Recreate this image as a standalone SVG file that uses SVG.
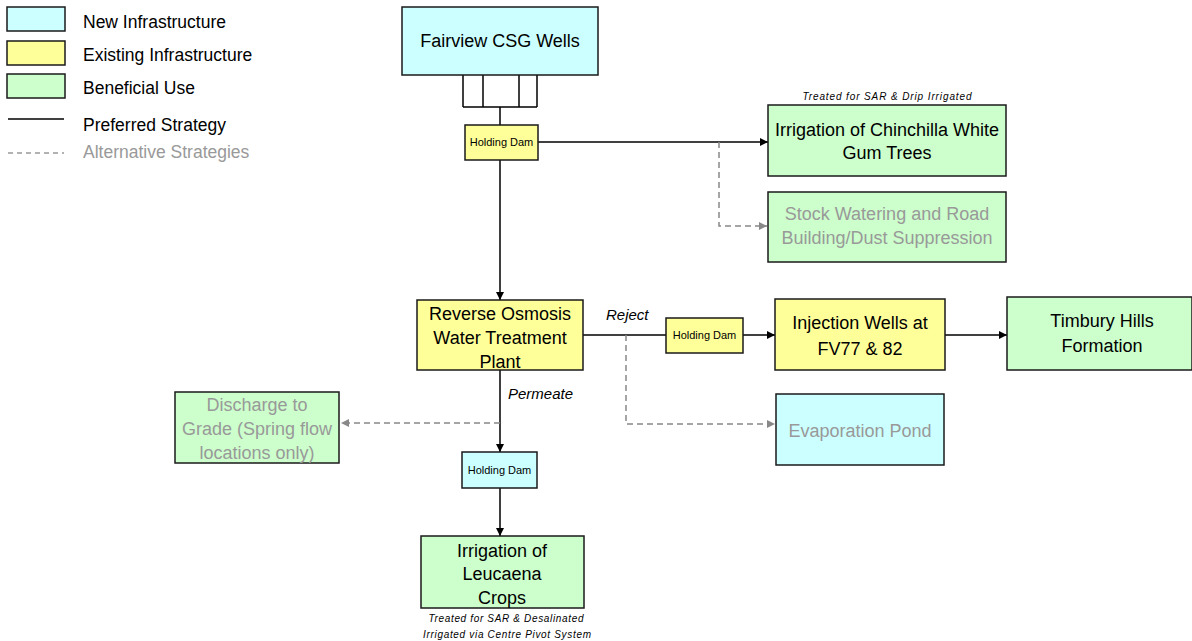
<svg xmlns="http://www.w3.org/2000/svg" width="1192" height="641" viewBox="0 0 1192 641">
  <defs>
    <marker id="arrow" viewBox="0 0 10 10" refX="10" refY="5" markerWidth="8" markerHeight="8" markerUnits="userSpaceOnUse" orient="auto">
      <path d="M0,0 L10,5 L0,10 z" fill="#000"/>
    </marker>
    <marker id="arrowGrey" viewBox="0 0 10 10" refX="10" refY="5" markerWidth="8" markerHeight="8" markerUnits="userSpaceOnUse" orient="auto">
      <path d="M0,0 L10,5 L0,10 z" fill="#888"/>
    </marker>
    <style>
      text { font-family: "Liberation Sans", Arial, sans-serif; }
      .box { stroke: #1a1a1a; stroke-width: 1.5; }
      .new { fill: #CCFFFF; }
      .existing { fill: #FFFF99; }
      .benefit { fill: #CCFFCC; }
      .lbl { font-size: 18px; fill: #000; text-anchor: middle; }
      .lbl-alt { font-size: 18px; fill: #999; text-anchor: middle; }
      .dam { font-size: 11px; fill: #000; text-anchor: middle; }
      .note { font-size: 10px; font-style: italic; fill: #000; text-anchor: middle; }
      .flow { font-size: 15px; font-style: italic; fill: #000; }
      .legend { font-size: 17.5px; fill: #000; }
      .legend-alt { font-size: 17.5px; fill: #999; }
      .pref { stroke: #000; stroke-width: 1.5; fill: none; }
      .alt { stroke: #888; stroke-width: 1.5; fill: none; stroke-dasharray: 6 4; }
    </style>
  </defs>

  <!-- Legend -->
  <g id="legend">
    <rect class="box new" x="7" y="7" width="58" height="24"/>
    <rect class="box existing" x="7" y="41" width="58" height="24"/>
    <rect class="box benefit" x="7" y="74" width="58" height="24"/>
    <line x1="8" y1="119" x2="64" y2="119" stroke="#000" stroke-width="1.5"/>
    <line x1="8" y1="153" x2="64" y2="153" stroke="#999" stroke-width="1.5" stroke-dasharray="5 4"/>
    <text class="legend" x="83" y="28">New Infrastructure</text>
    <text class="legend" x="83" y="61">Existing Infrastructure</text>
    <text class="legend" x="83" y="94">Beneficial Use</text>
    <text class="legend" x="83" y="131">Preferred Strategy</text>
    <text class="legend-alt" x="83" y="158">Alternative Strategies</text>
  </g>

  <!-- Connectors -->
  <g id="connectors">
    <!-- well manifold -->
    <path class="pref" d="M463,75 V107 M483,75 V107 M519,75 V107 M537,75 V107 M463,107 H537 M500,107 V125"/>
    <!-- holding dam to tree irrigation -->
    <line class="pref" x1="538" y1="142" x2="768" y2="142" marker-end="url(#arrow)"/>
    <!-- alternative: stock watering -->
    <path class="alt" d="M719,142 V226 H767" marker-end="url(#arrowGrey)"/>
    <!-- holding dam to RO plant -->
    <line class="pref" x1="500" y1="160" x2="500" y2="300" marker-end="url(#arrow)"/>
    <!-- reject stream -->
    <line class="pref" x1="583" y1="335" x2="666" y2="335"/>
    <line class="pref" x1="743" y1="335" x2="775" y2="335" marker-end="url(#arrow)"/>
    <line class="pref" x1="945" y1="335" x2="1007" y2="335" marker-end="url(#arrow)"/>
    <!-- alternative: evaporation pond -->
    <path class="alt" d="M626,335 V424 H775" marker-end="url(#arrowGrey)"/>
    <!-- permeate stream -->
    <line class="pref" x1="500" y1="370" x2="500" y2="452" marker-end="url(#arrow)"/>
    <!-- alternative: discharge to grade -->
    <line class="alt" x1="500" y1="423" x2="341" y2="423" marker-end="url(#arrowGrey)"/>
    <line class="pref" x1="500" y1="488" x2="500" y2="536" marker-end="url(#arrow)"/>
  </g>

  <g id="wells">
    <rect class="box new" x="402" y="7" width="196" height="68"/>
    <text class="lbl" x="500" y="47">Fairview CSG Wells</text>
  </g>

  <g id="dam-wells">
    <rect class="box existing" x="465" y="125" width="73" height="35"/>
    <text class="dam" x="501.5" y="146">Holding Dam</text>
  </g>

  <g id="gum-trees">
    <text class="note" x="887" y="100" textLength="169" lengthAdjust="spacing">Treated for SAR &amp; Drip Irrigated</text>
    <rect class="box benefit" x="768" y="105" width="238" height="71"/>
    <text class="lbl" x="887" y="136">Irrigation of Chinchilla White</text>
    <text class="lbl" x="887" y="159">Gum Trees</text>
  </g>

  <g id="stock-watering">
    <rect class="box benefit" x="768" y="192" width="238" height="70"/>
    <text class="lbl-alt" x="887" y="220">Stock Watering and Road</text>
    <text class="lbl-alt" x="887" y="244">Building/Dust Suppression</text>
  </g>

  <g id="ro-plant">
    <rect class="box existing" x="417" y="300" width="166" height="70"/>
    <text class="lbl" x="500" y="320">Reverse Osmosis</text>
    <text class="lbl" x="500" y="344">Water Treatment</text>
    <text class="lbl" x="500" y="368">Plant</text>
  </g>

  <text class="flow" x="606" y="320">Reject</text>
  <text class="flow" x="508" y="399">Permeate</text>

  <g id="dam-reject">
    <rect class="box existing" x="666" y="318" width="77" height="35"/>
    <text class="dam" x="704.5" y="339">Holding Dam</text>
  </g>

  <g id="injection-wells">
    <rect class="box existing" x="775" y="299" width="170" height="71"/>
    <text class="lbl" x="860" y="329">Injection Wells at</text>
    <text class="lbl" x="860" y="355">FV77 &amp; 82</text>
  </g>

  <g id="timbury-hills">
    <rect class="box benefit" x="1007" y="297" width="185" height="73"/>
    <text class="lbl" x="1102" y="327">Timbury Hills</text>
    <text class="lbl" x="1102" y="352">Formation</text>
  </g>

  <g id="evaporation-pond">
    <rect class="box new" x="776" y="394" width="168" height="71"/>
    <text class="lbl-alt" x="860" y="437">Evaporation Pond</text>
  </g>

  <g id="discharge">
    <rect class="box benefit" x="175" y="392" width="164" height="71"/>
    <text class="lbl-alt" x="257" y="411">Discharge to</text>
    <text class="lbl-alt" x="257" y="435">Grade (Spring flow</text>
    <text class="lbl-alt" x="257" y="459">locations only)</text>
  </g>

  <g id="dam-permeate">
    <rect class="box new" x="462" y="452" width="75" height="36"/>
    <text class="dam" x="499.5" y="474">Holding Dam</text>
  </g>

  <g id="leucaena">
    <rect class="box benefit" x="421" y="536" width="163" height="72"/>
    <text class="lbl" x="502" y="557">Irrigation of</text>
    <text class="lbl" x="502" y="580">Leucaena</text>
    <text class="lbl" x="502" y="604">Crops</text>
    <text class="note" x="506" y="622" textLength="155" lengthAdjust="spacing">Treated for SAR &amp; Desalinated</text>
    <text class="note" x="507" y="638" textLength="168" lengthAdjust="spacing">Irrigated via Centre Pivot System</text>
  </g>
</svg>
